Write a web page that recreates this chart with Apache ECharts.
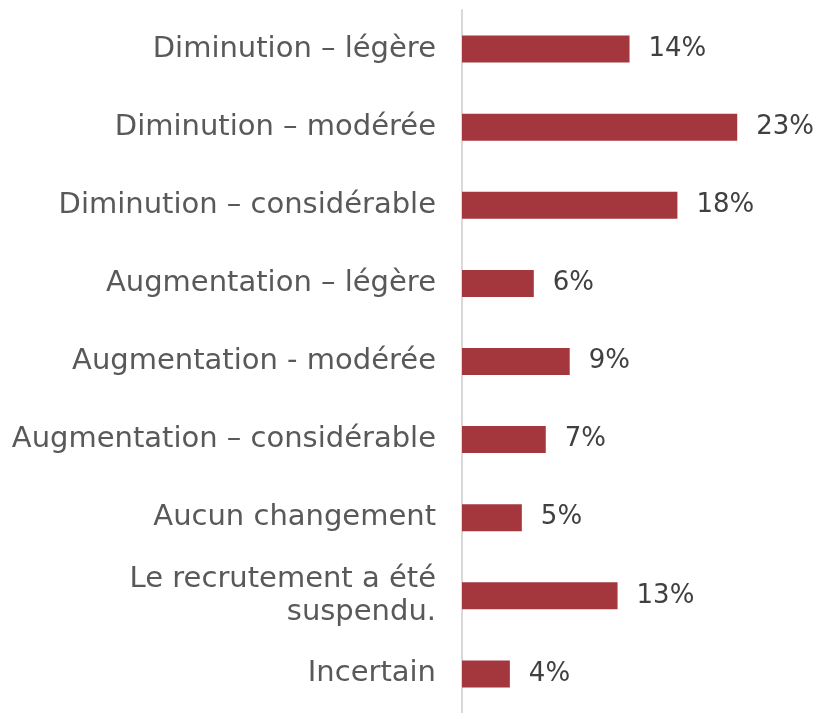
<!DOCTYPE html>
<html>
<head>
<meta charset="utf-8">
<script src="https://cdn.jsdelivr.net/npm/echarts@6/dist/echarts.min.js"></script>
<style>
  html, body { margin: 0; padding: 0; background: #fff; }
  #main { width: 821px; height: 713px; }
</style>
</head>
<body>
<div id="main"></div>
<script>
var chart = echarts.init(document.getElementById('main'));

// top to bottom, as in the picture
var categories = [
    'Diminution – légère',
    'Diminution – modérée',
    'Diminution – considérable',
    'Augmentation – légère',
    'Augmentation - modérée',
    'Augmentation – considérable',
    'Aucun changement',
    'Le recrutement a été\nsuspendu.',
    'Incertain'
]
var values = [14, 23, 18, 6, 9, 7, 5, 13, 4]

var fontName = 'DejaVu Sans'

chart.setOption({
    backgroundColor: '#fff',
    animation: false,
    grid: {
        left: 462,
        width: 359,
        top: 10,
        height: 708,
        containLabel: false
    },
    xAxis: {
        type: 'value',
        min: 0,
        max: 30,
        show: false
    },
    yAxis: {
        type: 'category',
        inverse: true,
        data: categories,
        axisLine: {
            show: true,
            lineStyle: { color: '#d9d9d9', width: 2 }
        },
        axisTick: { show: false },
        axisLabel: {
            margin: 26,
            color: '#595959',
            fontFamily: fontName,
            fontSize: 29,
            lineHeight: 33,
            align: 'right'
        }
    },
    series: [{
        type: 'bar',
        data: values,
        barWidth: 27,
        itemStyle: { color: '#a4373e' },
        label: {
            show: true,
            position: 'right',
            distance: 19,
            formatter: '{c}%',
            color: '#404040',
            fontFamily: fontName,
            fontSize: 26
        }
    }]
});
</script>
</body>
</html>
